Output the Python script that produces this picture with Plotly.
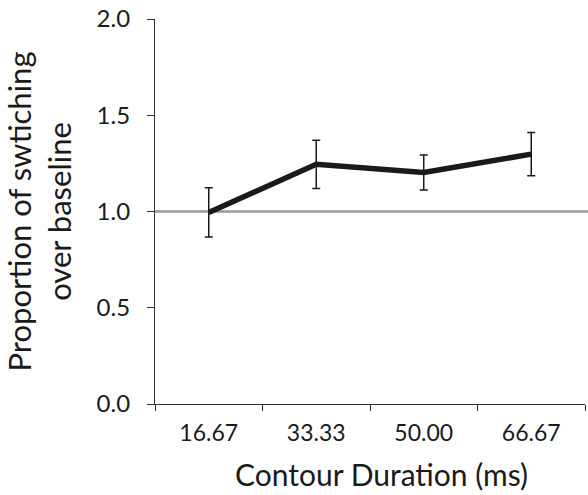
import plotly.graph_objects as go

categories = ["16.67", "33.33", "50.00", "66.67"]
values = [0.995, 1.245, 1.203, 1.298]
errors = [0.128, 0.125, 0.091, 0.112]
y_ticks = [0.0, 0.5, 1.0, 1.5, 2.0]
y_ticklabels = ["0.0", "0.5", "1.0", "1.5", "2.0"]
baseline = 1.0
x_title = "Contour Duration (ms)"
y_title = "Proportion of swtiching<br>over baseline"

FONT = "Lato, 'Open Sans', sans-serif"

fig = go.Figure()
fig.add_trace(go.Scatter(
    x=categories, y=values,
    mode="lines",
    line=dict(color="#1a1a1a", width=5.5),
    error_y=dict(type="data", array=errors, visible=True,
                 color="#1a1a1a", thickness=1.5, width=4),
    showlegend=False,
))

fig.add_shape(type="line", xref="paper", yref="y", x0=0, x1=1.01,
              y0=baseline, y1=baseline,
              line=dict(color="#999999", width=2.5), layer="below")

fig.add_annotation(text=x_title, xref="paper", yref="paper",
                   x=0.526, y=0, yshift=-50, xanchor="center", yanchor="top",
                   showarrow=False, font=dict(size=30, family=FONT, color="#1a1a1a"))

fig.update_layout(
    width=588, height=495,
    margin=dict(l=155, r=3, t=16, b=91),
    paper_bgcolor="white", plot_bgcolor="white",
    font=dict(family=FONT, color="#1a1a1a", size=23),
    xaxis=dict(
        type="category", range=[-0.5, 3.5],
        showline=True, linecolor="#333333", linewidth=1.2,
        ticks="outside", ticklen=6, tickcolor="#333333", tickwidth=1.2,
        tickson="boundaries", showgrid=False, zeroline=False,
        tickfont=dict(size=23), ticklabelstandoff=8,
    ),
    yaxis=dict(
        range=[0, 2.0], tickvals=y_ticks, ticktext=y_ticklabels,
        showline=True, linecolor="#333333", linewidth=1.2,
        ticks="outside", ticklen=7, tickcolor="#333333", tickwidth=1.2,
        showgrid=False, zeroline=False, ticklabeloverflow="allow",
        tickfont=dict(size=24), ticklabelstandoff=12,
        title=dict(text=y_title, font=dict(size=31), standoff=32),
    ),
)

# remove the browser's default 8px body margin so the chart fills the window
fig.write_html("out.html", config={"displayModeBar": False},
               post_script="document.body.style.margin='0px';")
